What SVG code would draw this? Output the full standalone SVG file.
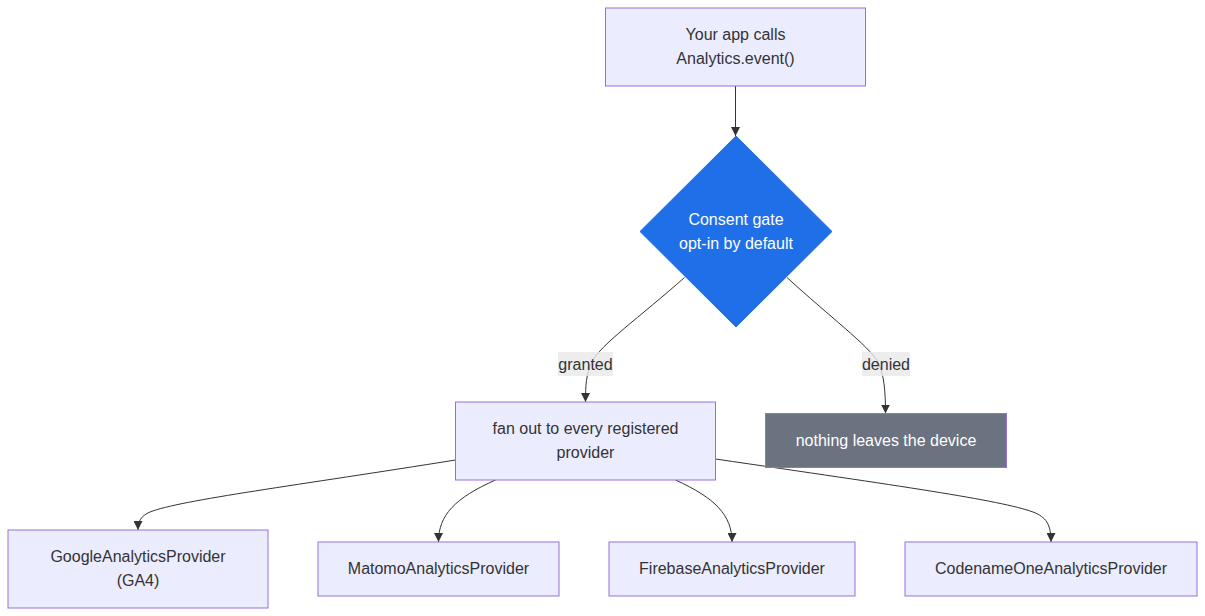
<svg xmlns="http://www.w3.org/2000/svg" width="1205" height="616" viewBox="0 0 1205 616">
<style>
.node rect{fill:#ECECFF;stroke:#9370DB;stroke-width:1}
.t{font-family:"Liberation Sans",Arial,sans-serif;font-size:16px;fill:#333;text-anchor:middle;dominant-baseline:central}
.w{fill:#fff}
.edge{fill:none;stroke:#333;stroke-width:1}
.lbl{fill:#e8e8e8;opacity:0.8}
</style>
<defs>
<marker id="arr" viewBox="0 0 10 10" refX="10" refY="5" markerUnits="userSpaceOnUse" markerWidth="9" markerHeight="9" orient="auto">
<path d="M0,0 L10,5 L0,10 z" fill="#333"/>
</marker>
</defs>
<rect width="1205" height="616" fill="#fff"/>
<g id="connectors">
<path class="edge" d="M735.5,86 L735.5,136" marker-end="url(#arr)"/>
<path class="edge" d="M684.5,277.5 C640,317 600,345 592,362 C586,375 585.5,385 585.5,402" marker-end="url(#arr)"/>
<path class="edge" d="M787,277.5 C830,317 868,345 878,362 C884,375 885.5,390 885.5,413.5" marker-end="url(#arr)"/>
<path class="edge" d="M455.5,460 C300,485 180,500 150,512 C141,516 138,521 138,530" marker-end="url(#arr)"/>
<path class="edge" d="M495.5,480 C455,498 438.5,515 438.5,542" marker-end="url(#arr)"/>
<path class="edge" d="M675.5,480 C715,498 732,515 732,542" marker-end="url(#arr)"/>
<path class="edge" d="M715.5,459 C900,486 1000,500 1033,512 C1046,517 1051,524 1051,542" marker-end="url(#arr)"/>
<g id="label-granted"><rect class="lbl" x="558" y="352" width="55" height="24"/><text class="t" x="585.5" y="364">granted</text></g>
<g id="label-denied"><rect class="lbl" x="862" y="352" width="48" height="24"/><text class="t" x="886" y="364">denied</text></g>
</g>
<g id="app" class="node"><rect x="605.5" y="8" width="260" height="78"/><text class="t" x="735.5" y="34">Your app calls</text><text class="t" x="735.5" y="58">Analytics.event()</text></g>
<g id="gate"><polygon points="736,136 832,231.5 736,327 640,231.5" fill="#1f6fe8" stroke="#1f6fe8"/><text class="t w" x="736" y="219">Consent gate</text><text class="t w" x="736" y="243">opt-in by default</text></g>
<g id="fanout" class="node"><rect x="455.5" y="402" width="260" height="78"/><text class="t" x="585.5" y="428">fan out to every registered</text><text class="t" x="585.5" y="452">provider</text></g>
<g id="nothing"><rect x="765.5" y="413.5" width="241" height="54" fill="#6b7280" stroke="#9370DB"/><text class="t w" x="886" y="440">nothing leaves the device</text></g>
<g id="ga" class="node"><rect x="8" y="530" width="260" height="78"/><text class="t" x="138" y="556">GoogleAnalyticsProvider</text><text class="t" x="138" y="580">(GA4)</text></g>
<g id="matomo" class="node"><rect x="318" y="542" width="241" height="54"/><text class="t" x="438.5" y="568">MatomoAnalyticsProvider</text></g>
<g id="firebase" class="node"><rect x="609" y="542" width="246" height="54"/><text class="t" x="732" y="568">FirebaseAnalyticsProvider</text></g>
<g id="codename" class="node"><rect x="905" y="542" width="292" height="54"/><text class="t" x="1051" y="568">CodenameOneAnalyticsProvider</text></g>
</svg>
